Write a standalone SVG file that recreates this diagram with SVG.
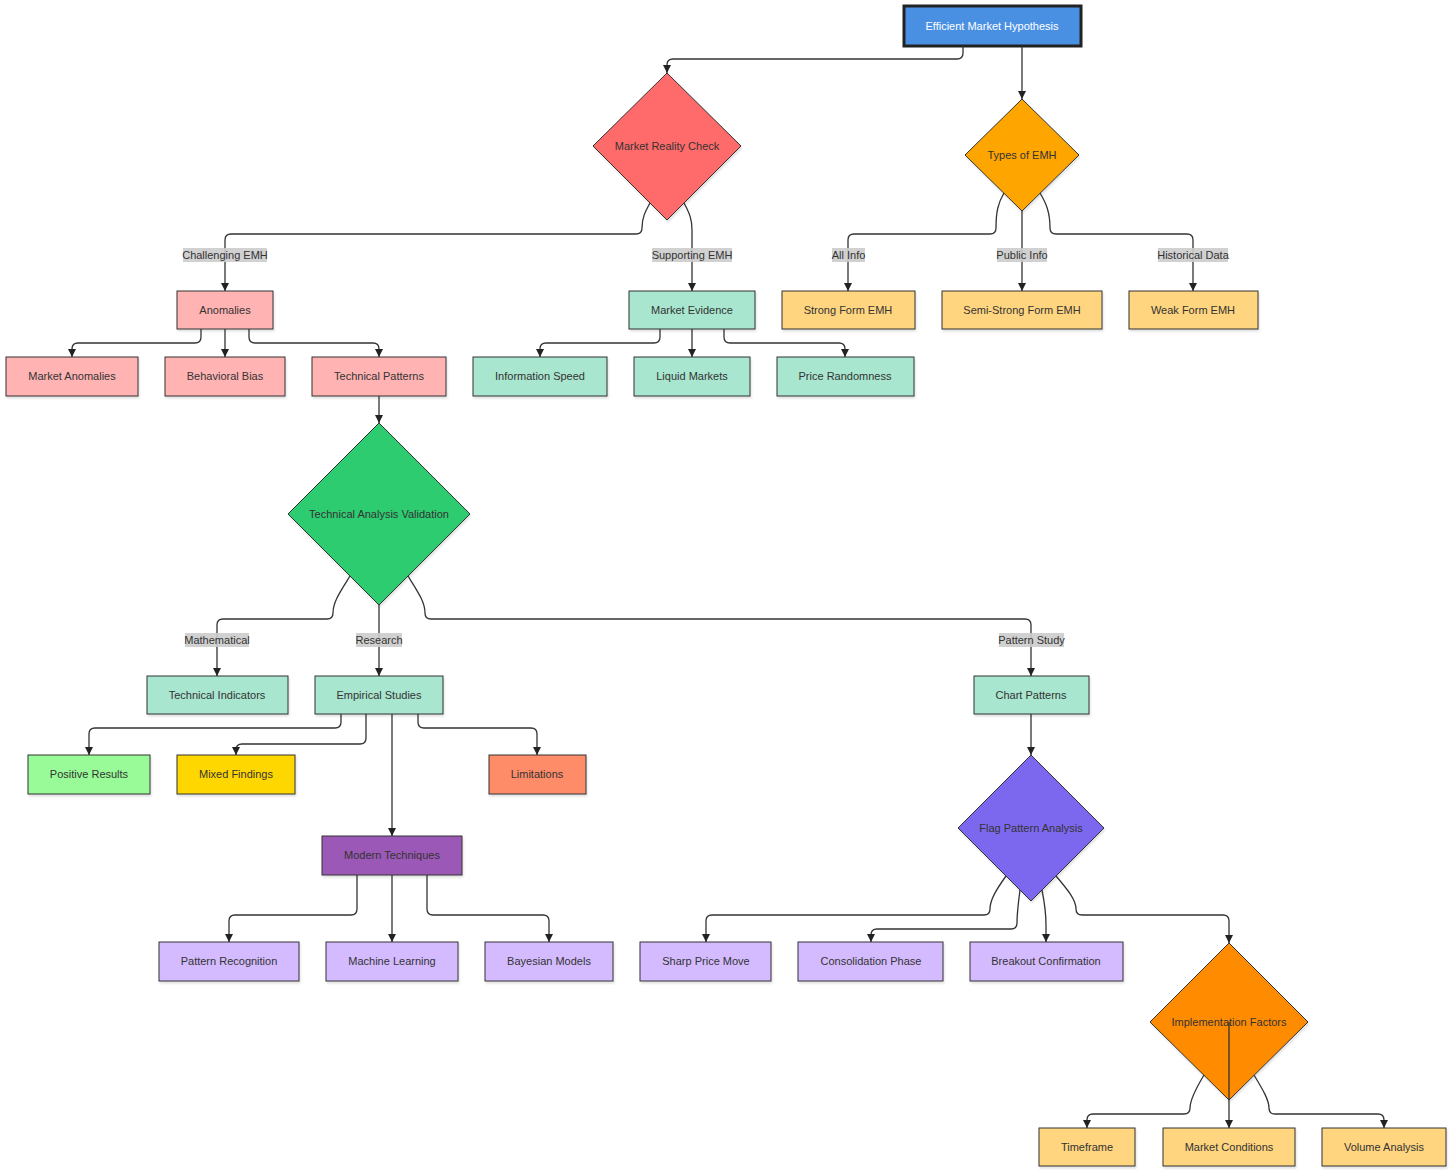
<svg xmlns="http://www.w3.org/2000/svg" width="1456" height="1176" viewBox="0 0 1456 1176">
<defs>
<marker id="arr" viewBox="0 0 10 10" refX="10" refY="5" markerWidth="8" markerHeight="8" markerUnits="userSpaceOnUse" orient="auto"><path d="M0,0 L10,5 L0,10 z" fill="#222"/></marker>
<filter id="sh" x="-10%" y="-10%" width="130%" height="140%"><feDropShadow dx="1" dy="2" stdDeviation="1.2" flood-color="#000" flood-opacity="0.12"/></filter>
</defs>
<style>
text{font-family:"Liberation Sans",Arial,sans-serif;font-size:11px;fill:#333;text-anchor:middle;dominant-baseline:central}
.n{stroke:#333;stroke-width:1;filter:url(#sh)}
.e{fill:none;stroke:#333;stroke-width:1.3;marker-end:url(#arr)}
.lb{fill:#cccccc;opacity:0.9}
.pink{fill:#ffb3b3}.mint{fill:#a8e6cf}.peach{fill:#ffd580}.lav{fill:#d4bbff}
</style>
<rect width="1456" height="1176" fill="#ffffff"/>
<g id="nodes">
<g id="emh"><rect x="904" y="6" width="177" height="40" fill="#4a90e2" stroke="#222" stroke-width="3"/><text x="992" y="26" style="fill:#ffffff">Efficient Market Hypothesis</text></g>
<g id="mrc"><polygon class="n" points="667,73 741,146 667,220 593,146" fill="#ff6b6b"/><text x="667" y="146">Market Reality Check</text></g>
<g id="types"><polygon class="n" points="1022,99 1079,155 1022,211 965,155" fill="#ffa500"/><text x="1022" y="155">Types of EMH</text></g>
<g id="anomalies"><rect class="n pink" x="177" y="291" width="96" height="38"/><text x="225" y="310">Anomalies</text></g>
<g id="evidence"><rect class="n mint" x="629" y="291" width="126" height="38"/><text x="692" y="310">Market Evidence</text></g>
<g id="strong"><rect class="n peach" x="782" y="291" width="133" height="38"/><text x="848" y="310">Strong Form EMH</text></g>
<g id="semi"><rect class="n peach" x="942" y="291" width="160" height="38"/><text x="1022" y="310">Semi-Strong Form EMH</text></g>
<g id="weak"><rect class="n peach" x="1129" y="291" width="129" height="38"/><text x="1193" y="310">Weak Form EMH</text></g>
<g id="manom"><rect class="n pink" x="6" y="357" width="132" height="39"/><text x="72" y="376">Market Anomalies</text></g>
<g id="behav"><rect class="n pink" x="165" y="357" width="120" height="39"/><text x="225" y="376">Behavioral Bias</text></g>
<g id="techpat"><rect class="n pink" x="312" y="357" width="134" height="39"/><text x="379" y="376">Technical Patterns</text></g>
<g id="infospeed"><rect class="n mint" x="473" y="357" width="134" height="39"/><text x="540" y="376">Information Speed</text></g>
<g id="liquid"><rect class="n mint" x="634" y="357" width="116" height="39"/><text x="692" y="376">Liquid Markets</text></g>
<g id="random"><rect class="n mint" x="777" y="357" width="137" height="39"/><text x="845" y="376">Price Randomness</text></g>
<g id="tav"><polygon class="n" points="379,423 470,514 379,605 288,514" fill="#2ecc71"/><text x="379" y="514">Technical Analysis Validation</text></g>
<g id="techind"><rect class="n mint" x="147" y="676" width="141" height="38"/><text x="217" y="695">Technical Indicators</text></g>
<g id="empirical"><rect class="n mint" x="315" y="676" width="128" height="38"/><text x="379" y="695">Empirical Studies</text></g>
<g id="chart"><rect class="n mint" x="974" y="676" width="115" height="38"/><text x="1031" y="695">Chart Patterns</text></g>
<g id="positive"><rect class="n" x="28" y="755" width="122" height="39" fill="#98fb98"/><text x="89" y="774">Positive Results</text></g>
<g id="mixed"><rect class="n" x="177" y="755" width="118" height="39" fill="#ffd700"/><text x="236" y="774">Mixed Findings</text></g>
<g id="limits"><rect class="n" x="489" y="755" width="97" height="39" fill="#ff8c69"/><text x="537" y="774">Limitations</text></g>
<g id="modern"><rect class="n" x="322" y="836" width="140" height="39" fill="#9b59b6"/><text x="392" y="855">Modern Techniques</text></g>
<g id="patrec"><rect class="n lav" x="159" y="942" width="140" height="39"/><text x="229" y="961">Pattern Recognition</text></g>
<g id="ml"><rect class="n lav" x="326" y="942" width="132" height="39"/><text x="392" y="961">Machine Learning</text></g>
<g id="bayes"><rect class="n lav" x="485" y="942" width="128" height="39"/><text x="549" y="961">Bayesian Models</text></g>
<g id="flag"><polygon class="n" points="1031,755 1104,828 1031,901 958,828" fill="#7b68ee"/><text x="1031" y="828">Flag Pattern Analysis</text></g>
<g id="sharp"><rect class="n lav" x="640" y="942" width="131" height="39"/><text x="706" y="961">Sharp Price Move</text></g>
<g id="consol"><rect class="n lav" x="798" y="942" width="145" height="39"/><text x="871" y="961">Consolidation Phase</text></g>
<g id="breakout"><rect class="n lav" x="970" y="942" width="153" height="39"/><text x="1046" y="961">Breakout Confirmation</text></g>
<g id="impl"><polygon class="n" points="1229,943 1308,1022 1229,1100 1150,1022" fill="#ff8c00"/><text x="1229" y="1022">Implementation Factors</text></g>
<g id="timeframe"><rect class="n peach" x="1039" y="1128" width="96" height="38"/><text x="1087" y="1147">Timeframe</text></g>
<g id="mktcond"><rect class="n peach" x="1163" y="1128" width="132" height="38"/><text x="1229" y="1147">Market Conditions</text></g>
<g id="volume"><rect class="n peach" x="1322" y="1128" width="124" height="38"/><text x="1384" y="1147">Volume Analysis</text></g>
</g>
<g id="connectors">
<path class="e" d="M963,46 L963,53 Q963,59 957,59 L673,59 Q667,59 667,65 L667,73"/>
<path class="e" d="M1022,46 L1022,99"/>
<path class="e" d="M650,203 C645,212 642,218 642,228 Q642,234 636,234 L231,234 Q225,234 225,240 L225,291"/>
<path class="e" d="M684,203 C690,214 692,220 692,230 L692,291"/>
<path class="e" d="M1004,193 C998,203 996,212 996,228 Q996,234 990,234 L854,234 Q848,234 848,240 L848,291"/>
<path class="e" d="M1022,211 L1022,291"/>
<path class="e" d="M1040,193 C1046,203 1050,212 1050,228 Q1050,234 1056,234 L1187,234 Q1193,234 1193,240 L1193,291"/>
<path class="e" d="M201,329 L201,337 Q201,343 195,343 L78,343 Q72,343 72,349 L72,357"/>
<path class="e" d="M225,329 L225,357"/>
<path class="e" d="M249,329 L249,337 Q249,343 255,343 L373,343 Q379,343 379,349 L379,357"/>
<path class="e" d="M660,329 L660,337 Q660,343 654,343 L546,343 Q540,343 540,349 L540,357"/>
<path class="e" d="M692,329 L692,357"/>
<path class="e" d="M724,329 L724,337 Q724,343 730,343 L839,343 Q845,343 845,349 L845,357"/>
<path class="e" d="M379,396 L379,423"/>
<path class="e" d="M350,576 C340,592 333,602 333,613 Q333,619 327,619 L223,619 Q217,619 217,625 L217,676"/>
<path class="e" d="M379,605 L379,676"/>
<path class="e" d="M408,576 C418,592 425,602 425,613 Q425,619 431,619 L1025,619 Q1031,619 1031,625 L1031,676"/>
<path class="e" d="M341,714 L341,722 Q341,728 335,728 L95,728 Q89,728 89,734 L89,755"/>
<path class="e" d="M366,714 L366,738 Q366,744 360,744 L242,744 Q236,744 236,750 L236,755"/>
<path class="e" d="M392,714 L392,836"/>
<path class="e" d="M418,714 L418,722 Q418,728 424,728 L531,728 Q537,728 537,734 L537,755"/>
<path class="e" d="M357,875 L357,909 Q357,915 351,915 L235,915 Q229,915 229,921 L229,942"/>
<path class="e" d="M392,875 L392,942"/>
<path class="e" d="M427,875 L427,909 Q427,915 433,915 L543,915 Q549,915 549,921 L549,942"/>
<path class="e" d="M1031,714 L1031,755"/>
<path class="e" d="M1006,876 C996,890 990,900 990,909 Q990,915 984,915 L712,915 Q706,915 706,921 L706,942"/>
<path class="e" d="M1020,890 C1018,905 1017,915 1017,923 Q1017,929 1011,929 L877,929 Q871,929 871,935 L871,942"/>
<path class="e" d="M1042,890 C1045,905 1046,915 1046,925 L1046,942"/>
<path class="e" d="M1056,876 C1068,890 1076,900 1076,909 Q1076,915 1082,915 L1223,915 Q1229,915 1229,921 L1229,943"/>
<path class="e" d="M1204,1075 C1195,1090 1190,1100 1190,1108 Q1190,1114 1184,1114 L1093,1114 Q1087,1114 1087,1120 L1087,1128"/>
<path class="e" d="M1229,1022 L1229,1128"/>
<path class="e" d="M1254,1075 C1263,1090 1269,1100 1269,1108 Q1269,1114 1275,1114 L1378,1114 Q1384,1114 1384,1120 L1384,1128"/>
</g>
<g id="edge-labels">
<rect class="lb" x="183" y="248" width="84" height="14"/><text x="225" y="255">Challenging EMH</text>
<rect class="lb" x="652" y="248" width="80" height="14"/><text x="692" y="255">Supporting EMH</text>
<rect class="lb" x="832" y="248" width="33" height="14"/><text x="848.5" y="255">All Info</text>
<rect class="lb" x="997" y="248" width="50" height="14"/><text x="1022" y="255">Public Info</text>
<rect class="lb" x="1158" y="248" width="70" height="14"/><text x="1193" y="255">Historical Data</text>
<rect class="lb" x="185" y="633" width="64" height="14"/><text x="217" y="640">Mathematical</text>
<rect class="lb" x="356" y="633" width="46" height="14"/><text x="379" y="640">Research</text>
<rect class="lb" x="999" y="633" width="65" height="14"/><text x="1031.5" y="640">Pattern Study</text>
</g>
</svg>
